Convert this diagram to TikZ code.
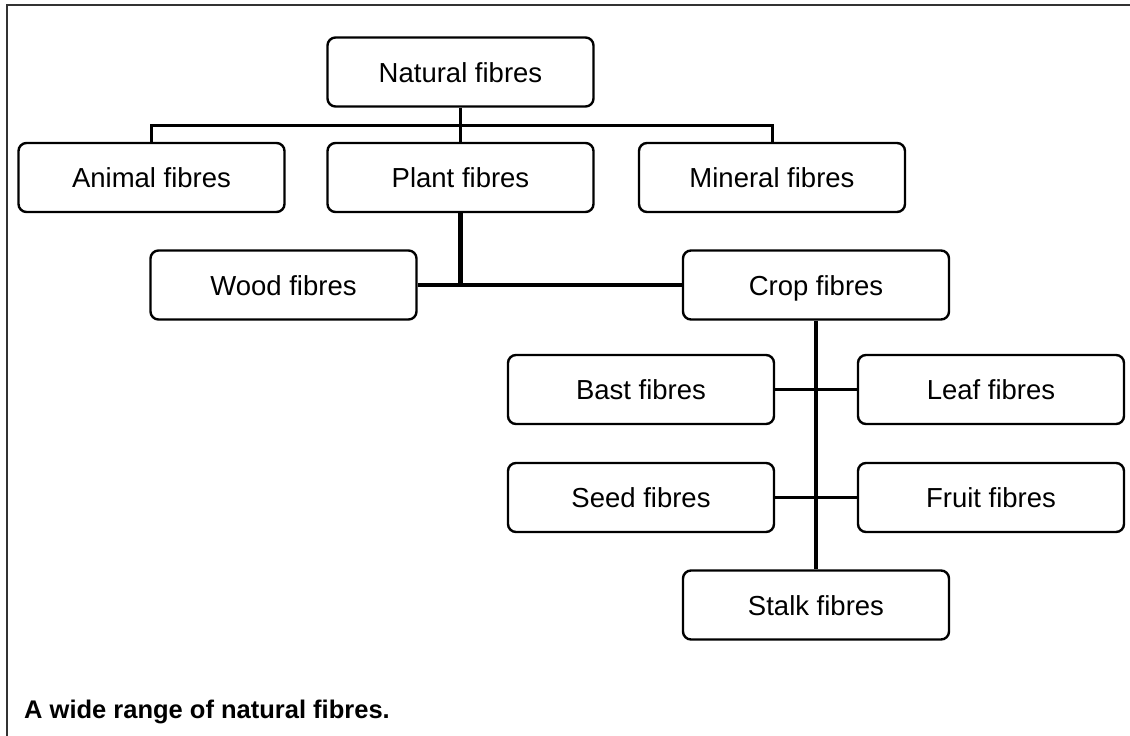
\documentclass[tikz,border=0pt]{standalone}
\usepackage{fontspec}
\setmainfont{Liberation Sans}
\usetikzlibrary{positioning,calc}

\begin{document}
\begin{tikzpicture}[x=1pt,y=-1pt,
  fibrebox/.style={draw,line width=2.4pt,rounded corners=8pt,inner sep=0pt,minimum width=266pt,minimum height=69pt,text height=20pt,text depth=0pt,font=\fontsize{27.5}{30}\selectfont},
  link/.style={line width=3pt},
  trunk/.style={line width=4.5pt}]
\useasboundingbox (0,0) rectangle (1130,736);
% frame of the figure
\draw[line width=2pt,black!80] (7,736) -- (7,5) -- (1130,5);
\node[fibrebox] (nat) at (460.5,72) {Natural fibres};
\node[fibrebox] (animal) at (151.5,177.5) {Animal fibres};
\node[fibrebox] (plant) at (460.5,177.5) {Plant fibres};
\node[fibrebox] (mineral) at (772,177.5) {Mineral fibres};
\node[fibrebox] (wood) at (283.5,285) {Wood fibres};
\node[fibrebox] (crop) at (816,285) {Crop fibres};
\node[fibrebox] (bast) at (641,389.5) {Bast fibres};
\node[fibrebox] (leaf) at (991,389.5) {Leaf fibres};
\node[fibrebox] (seed) at (641,497.5) {Seed fibres};
\node[fibrebox] (fruit) at (991,497.5) {Fruit fibres};
\node[fibrebox] (stalk) at (816,605) {Stalk fibres};
\coordinate (bus) at (460.5,125);
\draw[link] (nat) -- (plant);
\draw[link] (animal.north) |- (bus) -| (mineral.north);
\draw[trunk] (plant.south) -- (plant.south |- wood) coordinate (fork);
\draw[trunk] (wood) -- (crop);
\draw[trunk] (crop) -- (stalk);
\draw[link] (bast) -- (leaf);
\draw[link] (seed) -- (fruit);
\node[anchor=west,inner sep=0pt,font=\fontsize{25.5}{30}\selectfont\bfseries] (caption) at (24,712) {A wide range of natural fibres.};
\end{tikzpicture}
\end{document}
